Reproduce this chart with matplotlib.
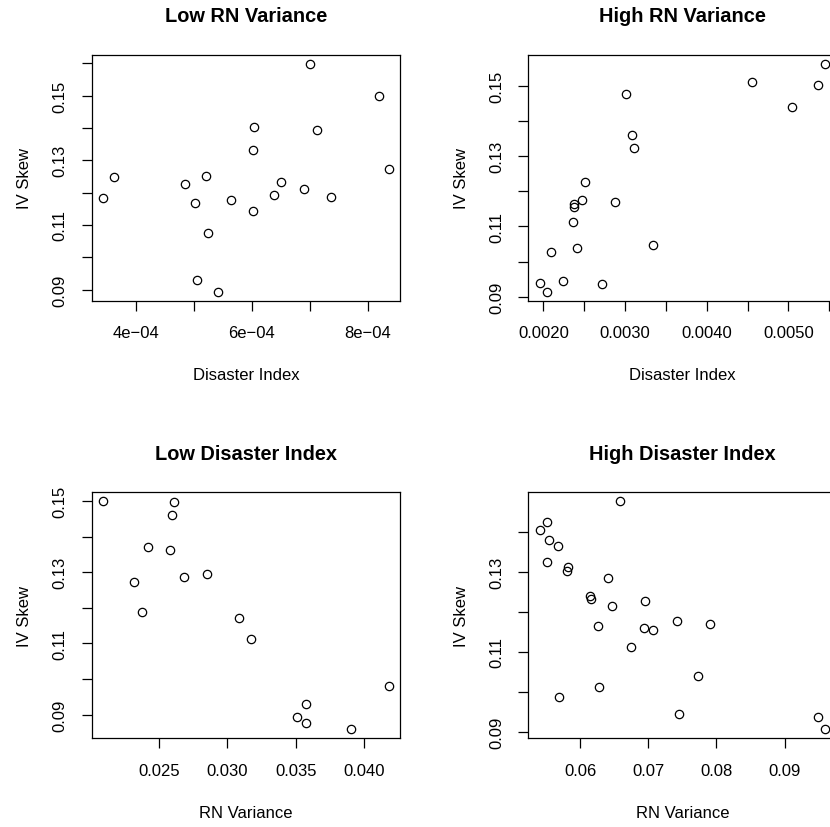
import matplotlib
matplotlib.use("Agg")
import matplotlib.pyplot as plt

plt.rcParams['font.family'] = ['Liberation Sans', 'DejaVu Sans']

# Low RN Variance: disaster index vs IV skew
low_rn_di = [3.44e-4, 3.63e-4, 4.85e-4, 5.22e-4, 5.02e-4, 5.25e-4, 5.05e-4, 5.42e-4,
             5.65e-4, 6.02e-4, 6.04e-4, 6.03e-4, 6.38e-4, 6.50e-4, 6.90e-4, 7.01e-4,
             7.12e-4, 7.36e-4, 8.19e-4, 8.36e-4]
low_rn_skew = [0.1183, 0.1249, 0.1226, 0.1250, 0.1168, 0.1076, 0.0931, 0.0894,
               0.1177, 0.1331, 0.1403, 0.1144, 0.1191, 0.1234, 0.1210, 0.1598,
               0.1394, 0.1187, 0.1500, 0.1272]

# High RN Variance
high_rn_di = [0.001955, 0.002041, 0.002090, 0.002245, 0.002359, 0.002376, 0.002371,
              0.002416, 0.002478, 0.002510, 0.002718, 0.002878, 0.003012, 0.003082,
              0.003114, 0.003347, 0.004555, 0.005045, 0.005355, 0.005449]
high_rn_skew = [0.0938, 0.0915, 0.1027, 0.0945, 0.1112, 0.1163, 0.1155, 0.1039,
                0.1176, 0.1227, 0.0937, 0.1169, 0.1476, 0.1360, 0.1324, 0.1046,
                0.1511, 0.1438, 0.1502, 0.1562]

# Low Disaster Index: RN variance vs IV skew
low_di_var = [0.02091, 0.02610, 0.02597, 0.02420, 0.02578, 0.02685, 0.02851, 0.02317,
              0.02376, 0.03085, 0.03172, 0.04178, 0.03571, 0.03508, 0.03571, 0.03900]
low_di_skew = [0.1500, 0.1498, 0.1461, 0.1371, 0.1363, 0.1288, 0.1295, 0.1272,
               0.1187, 0.1171, 0.1112, 0.0980, 0.0930, 0.0892, 0.0876, 0.0859]

# High Disaster Index
high_di_var = [0.06587, 0.05507, 0.05404, 0.05541, 0.05673, 0.05507, 0.05824, 0.05809,
               0.06402, 0.06142, 0.06157, 0.06465, 0.06945, 0.06255, 0.06939, 0.07067,
               0.07419, 0.07899, 0.06749, 0.07728, 0.06279, 0.05692, 0.07453, 0.09489,
               0.09597]
high_di_skew = [0.1477, 0.1426, 0.1405, 0.1379, 0.1366, 0.1325, 0.1312, 0.1302,
                0.1286, 0.1239, 0.1233, 0.1214, 0.1228, 0.1164, 0.1161, 0.1154,
                0.1177, 0.1171, 0.1113, 0.1039, 0.1012, 0.0988, 0.0945, 0.0938,
                0.0907]

W, H = 830, 828
fig = plt.figure(figsize=(W / 100, H / 100), dpi=100)

# axes boxes in pixels: left, top, right, bottom
boxes = [(91.7, 55.7, 400.0, 301.7), (528.3, 55.7, 836.6, 301.7),
         (91.7, 493.0, 400.0, 739.3), (528.3, 493.0, 836.6, 739.3)]


def rlim(v):
    # R style axis range: data range plus 4% each side
    lo, hi = min(v), max(v)
    pad = 0.04 * (hi - lo)
    return lo - pad, hi + pad


def panel(box, x, y, title, xlabel, xticks, xlabels, yticks, ylabels):
    l, t, r, b = box
    ax = fig.add_axes([l / W, 1 - b / H, (r - l) / W, (b - t) / H])
    ax.plot(x, y, 'o', ms=6, mfc='none', mec='black', mew=0.9, clip_on=False)
    ax.set_xlim(*rlim(x))
    ax.set_ylim(*rlim(y))
    ax.set_xticks(xticks)
    ax.set_xticklabels(xlabels)
    ax.set_yticks(yticks)
    ax.set_yticklabels(ylabels, rotation=90, va='center')
    ax.tick_params(length=7.5, width=0.9, pad=10, labelsize=12)
    for s in ax.spines.values():
        s.set_linewidth(0.9)
    ax.set_title(title, fontsize=14.4, fontweight='bold', pad=24)
    ax.set_xlabel(xlabel, fontsize=12, labelpad=19.5)
    ax.set_ylabel('IV Skew', fontsize=12, labelpad=14.5)
    return ax


skew_ticks = [0.09, 0.10, 0.11, 0.12, 0.13, 0.14, 0.15, 0.16]
skew_labels = ['0.09', '', '0.11', '', '0.13', '', '0.15', '']

panel(boxes[0], low_rn_di, low_rn_skew, 'Low RN Variance', 'Disaster Index',
      [4e-4, 5e-4, 6e-4, 7e-4, 8e-4],
      ['4e\u221204', '', '6e\u221204', '', '8e\u221204'],
      skew_ticks, skew_labels)
panel(boxes[1], high_rn_di, high_rn_skew, 'High RN Variance', 'Disaster Index',
      [0.002, 0.0025, 0.003, 0.0035, 0.004, 0.0045, 0.005, 0.0055],
      ['0.0020', '', '0.0030', '', '0.0040', '', '0.0050', ''],
      skew_ticks[:-1], skew_labels[:-1])
panel(boxes[2], low_di_var, low_di_skew, 'Low Disaster Index', 'RN Variance',
      [0.025, 0.030, 0.035, 0.040], ['0.025', '0.030', '0.035', '0.040'],
      skew_ticks[:-1], skew_labels[:-1])
panel(boxes[3], high_di_var, high_di_skew, 'High Disaster Index', 'RN Variance',
      [0.06, 0.07, 0.08, 0.09], ['0.06', '0.07', '0.08', '0.09'],
      skew_ticks[:-2], skew_labels[:-2])

fig.savefig('out.png', dpi=100)
